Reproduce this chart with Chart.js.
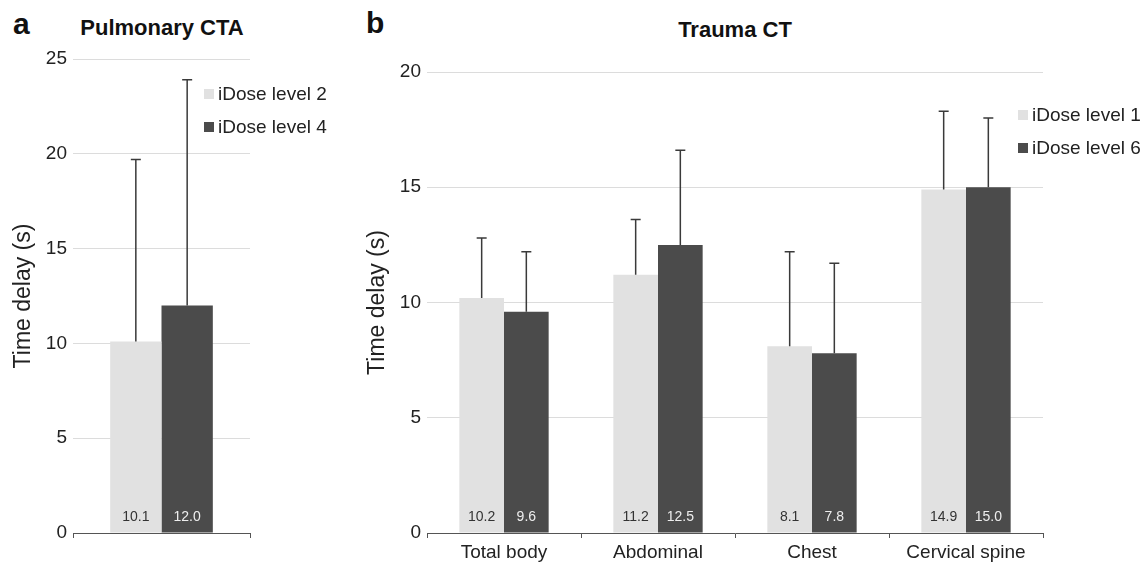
<!DOCTYPE html>
<html>
<head>
<meta charset="utf-8">
<script src="https://cdn.jsdelivr.net/npm/chart.js@4/dist/chart.umd.min.js"></script>
<style>
  html, body { margin: 0; padding: 0; background: #fff; }
  body { width: 1148px; height: 562px; position: relative; overflow: hidden;
         font-family: "Liberation Sans", Arial, Helvetica, sans-serif; color: #222; }
  .panel { position: absolute; top: 0; height: 562px; }
  .letter { position: absolute; font-weight: bold; font-size: 30px; line-height: 30px; color: #111; }
  .title { position: absolute; font-weight: bold; font-size: 22px; line-height: 22px; color: #111;
           transform: translateX(-50%); white-space: nowrap; }
  .leg { position: absolute; font-size: 19px; line-height: 19px; white-space: nowrap; }
  .leg span { display: inline-block; width: 10px; height: 10px; margin-right: 4px; vertical-align: 1px; }
</style>
</head>
<body>
<div class="letter" style="left:13px;top:9px">a</div>
<div class="letter" style="left:366px;top:8px">b</div>
<div class="title" style="left:162px;top:17px">Pulmonary CTA</div>
<div class="title" style="left:735px;top:19px">Trauma CT</div>

<div class="panel" style="left:0;width:340px"><canvas id="pulmChart"></canvas></div>
<div class="panel" style="left:340px;width:808px"><canvas id="traumaChart"></canvas></div>

<div class="leg" style="left:204px;top:84px"><span style="background:#e1e1e1"></span>iDose level 2</div>
<div class="leg" style="left:204px;top:117px"><span style="background:#4b4b4b"></span>iDose level 4</div>
<div class="leg" style="left:1018px;top:105px"><span style="background:#e1e1e1"></span>iDose level 1</div>
<div class="leg" style="left:1018px;top:138px"><span style="background:#4b4b4b"></span>iDose level 6</div>

<script>
// ========== DATA ==========
const pulmCategories = [''];
const pulmLevel2 = [10.1];
const pulmLevel2Sd = [9.6];
const pulmLevel4 = [12.0];
const pulmLevel4Sd = [11.9];

const traumaCategories = ['Total body', 'Abdominal', 'Chest', 'Cervical spine'];
const traumaLevel1 = [10.2, 11.2, 8.1, 14.9];
const traumaLevel1Sd = [2.6, 2.4, 4.1, 3.4];
const traumaLevel6 = [9.6, 12.5, 7.8, 15.0];
const traumaLevel6Sd = [2.6, 4.1, 3.9, 3.0];

const pulmTicks = [0, 5, 10, 15, 20, 25];
const traumaTicks = [0, 5, 10, 15, 20];

// ========== STYLE ==========
const FONT = '"Liberation Sans", Arial, Helvetica, sans-serif';
const lightColor = '#e1e1e1';
const darkColor = '#4b4b4b';
const textColor = '#222';

// ========== ERROR BARS + VALUE LABELS ==========
const errorBarPlugin = {
  id: 'errorBars',
  afterDatasetsDraw(chart) {
    const ctx = chart.ctx;
    const yScale = chart.scales.y;
    chart.data.datasets.forEach((ds, di) => {
      const meta = chart.getDatasetMeta(di);
      meta.data.forEach((bar, i) => {
        const top = yScale.getPixelForValue(ds.data[i] + ds.sd[i]);
        ctx.save();
        ctx.strokeStyle = '#3a3a3a';
        ctx.lineWidth = 1.5;
        ctx.beginPath();
        ctx.moveTo(bar.x, bar.y);
        ctx.lineTo(bar.x, top);
        ctx.moveTo(bar.x - 5, top);
        ctx.lineTo(bar.x + 5, top);
        ctx.stroke();

        ctx.fillStyle = ds.labelColor;
        ctx.font = '14px ' + FONT;
        ctx.textAlign = 'center';
        ctx.textBaseline = 'middle';
        ctx.fillText(ds.data[i].toFixed(1), bar.x, yScale.bottom - 16);
        ctx.restore();
      });
    });
  }
};

function makeOptions(tickValues, yWidth, titlePad, padRight, padTop) {
  return {
    responsive: true,
    maintainAspectRatio: false,
    animation: false,
    layout: { padding: { left: 0, right: padRight, top: padTop, bottom: 0 } },
    plugins: { legend: { display: false }, tooltip: { enabled: false } },
    scales: {
      x: {
        afterFit: s => { s.height = 29; },
        border: { display: true, color: '#555', width: 1 },
        grid: { offset: true, drawOnChartArea: false, drawTicks: true, tickLength: 5, color: '#555' },
        ticks: { color: textColor, font: { family: FONT, size: 19 }, padding: 3, maxRotation: 0 }
      },
      y: {
        min: tickValues[0],
        max: tickValues[tickValues.length - 1],
        afterFit: s => { s.width = yWidth; },
        afterBuildTicks: s => { s.ticks = tickValues.map(v => ({ value: v })); },
        border: { display: false },
        grid: { color: '#dcdcdc', lineWidth: 1, drawTicks: false },
        ticks: { color: textColor, font: { family: FONT, size: 19 }, padding: 6 },
        title: {
          display: true,
          text: 'Time delay (s)',
          color: textColor,
          font: { family: FONT, size: 23 },
          padding: { top: titlePad, bottom: 0 }
        }
      }
    }
  };
}

// ========== PULMONARY CTA ==========
new Chart(document.getElementById('pulmChart'), {
  type: 'bar',
  data: {
    labels: pulmCategories,
    datasets: [
      { label: 'iDose level 2', data: pulmLevel2, sd: pulmLevel2Sd, backgroundColor: lightColor,
        labelColor: '#333', categoryPercentage: 0.58, barPercentage: 1.0 },
      { label: 'iDose level 4', data: pulmLevel4, sd: pulmLevel4Sd, backgroundColor: darkColor,
        labelColor: '#eee', categoryPercentage: 0.58, barPercentage: 1.0 }
    ]
  },
  options: makeOptions(pulmTicks, 73, 10, 90, 59),
  plugins: [errorBarPlugin]
});

// ========== TRAUMA CT ==========
new Chart(document.getElementById('traumaChart'), {
  type: 'bar',
  data: {
    labels: traumaCategories,
    datasets: [
      { label: 'iDose level 1', data: traumaLevel1, sd: traumaLevel1Sd, backgroundColor: lightColor,
        labelColor: '#333', categoryPercentage: 0.58, barPercentage: 1.0 },
      { label: 'iDose level 6', data: traumaLevel6, sd: traumaLevel6Sd, backgroundColor: darkColor,
        labelColor: '#eee', categoryPercentage: 0.58, barPercentage: 1.0 }
    ]
  },
  options: makeOptions(traumaTicks, 87, 24, 105, 72),
  plugins: [errorBarPlugin]
});
</script>
</body>
</html>
